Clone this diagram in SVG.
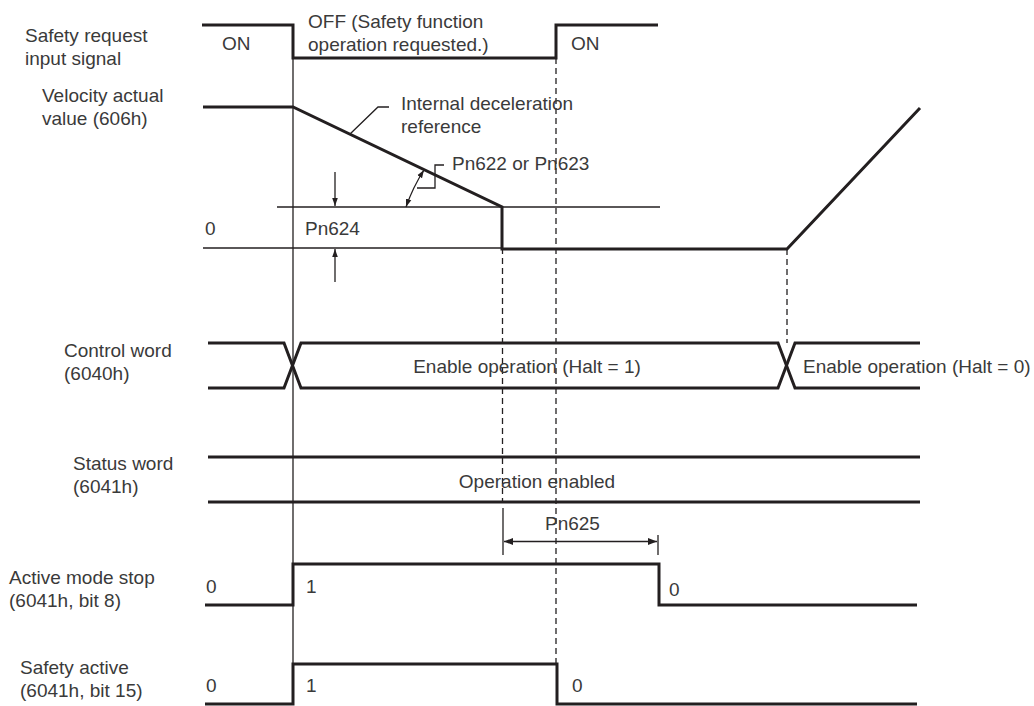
<svg xmlns="http://www.w3.org/2000/svg" width="1034" height="706" viewBox="0 0 1034 706">
<defs>
<style>
text{font-family:"Liberation Sans",Arial,sans-serif;font-size:19px;fill:#3a3a3a}
.sig{fill:none;stroke:#231f20;stroke-width:3;stroke-linejoin:miter}
.thin{fill:none;stroke:#231f20;stroke-width:1.3}
.dash{fill:none;stroke:#231f20;stroke-width:1.3;stroke-dasharray:6,4}
.mid{text-anchor:middle}
</style>
<marker id="ah" viewBox="0 0 10 10" refX="10" refY="5" markerWidth="9" markerHeight="9" markerUnits="userSpaceOnUse" orient="auto-start-reverse">
<path d="M0,1 L10,5 L0,9 Z" fill="#231f20"/>
</marker>
<marker id="ahs" viewBox="0 0 10 10" refX="10" refY="5" markerWidth="8" markerHeight="8" markerUnits="userSpaceOnUse" orient="auto-start-reverse">
<path d="M0,1.5 L10,5 L0,8.5 Z" fill="#231f20"/>
</marker>
</defs>
<rect width="1034" height="706" fill="#ffffff"/>

<g id="labels">
<text x="25" y="42">Safety request</text>
<text x="25" y="65">input signal</text>
<text x="42" y="102">Velocity actual</text>
<text x="42" y="125">value (606h)</text>
<text x="64" y="357">Control word</text>
<text x="64" y="380">(6040h)</text>
<text x="73" y="470">Status word</text>
<text x="73" y="493">(6041h)</text>
<text x="9" y="584">Active mode stop</text>
<text x="9" y="607">(6041h, bit 8)</text>
<text x="20" y="674">Safety active</text>
<text x="20" y="697">(6041h, bit 15)</text>
</g>

<g id="connectors">
<line class="thin" x1="293" y1="25" x2="293" y2="664"/>
<line class="dash" x1="556" y1="58" x2="556" y2="664"/>
<line class="dash" x1="502.5" y1="248" x2="502.5" y2="503"/>
<line class="dash" x1="787" y1="249" x2="787" y2="343"/>
</g>

<g id="safety-request">
<polyline class="sig" points="202,25 293,25 293,58 556,58 556,25 658,25"/>
<text x="222" y="50">ON</text>
<text x="308" y="28">OFF (Safety function</text>
<text x="308" y="51">operation requested.)</text>
<text x="571" y="50">ON</text>
</g>

<g id="velocity">
<line class="thin" x1="203" y1="248" x2="502" y2="248"/>
<line class="thin" x1="277" y1="207" x2="660" y2="207"/>
<polyline class="sig" points="203,107 293,107 502,207 502,249 787,249 920,108"/>
<text x="205" y="235">0</text>
<text x="305" y="235">Pn624</text>
<line class="thin" x1="335" y1="172" x2="335" y2="206" marker-end="url(#ahs)"/>
<line class="thin" x1="335" y1="282" x2="335" y2="249" marker-end="url(#ahs)"/>
<polyline class="thin" points="389,107 378,107 350,134"/>
<text x="401" y="110">Internal deceleration</text>
<text x="401" y="133">reference</text>
<polyline class="thin" points="444,165 435,165 435,188 417,188"/>
<path class="thin" d="M406,207 Q413,187 424,170" marker-start="url(#ahs)" marker-end="url(#ahs)"/>
<text x="452" y="170">Pn622 or Pn623</text>
</g>

<g id="control-word">
<polyline class="sig" points="208,343 284,343 301,388 778,388 795,343 920,343"/>
<polyline class="sig" points="208,388 284,388 301,343 778,343 795,388 920,388"/>
<text class="mid" x="527" y="373">Enable operation (Halt = 1)</text>
<text x="803" y="373">Enable operation (Halt = 0)</text>
</g>

<g id="status-word">
<line class="sig" x1="208" y1="457" x2="920" y2="457"/>
<line class="sig" x1="208" y1="502" x2="920" y2="502"/>
<text class="mid" x="537" y="488">Operation enabled</text>
</g>

<g id="pn625">
<line class="thin" x1="503" y1="508" x2="503" y2="555"/>
<line class="thin" x1="658" y1="535" x2="658" y2="555"/>
<line class="thin" x1="504" y1="541.5" x2="657" y2="541.5" marker-start="url(#ah)" marker-end="url(#ah)"/>
<text x="545" y="530">Pn625</text>
</g>

<g id="active-mode-stop">
<polyline class="sig" points="205,605 293,605 293,564 659,564 659,605 917,605"/>
<text x="206" y="593">0</text>
<text x="306" y="593">1</text>
<text x="669" y="596">0</text>
</g>

<g id="safety-active">
<polyline class="sig" points="205,704 293,704 293,664 557,664 557,704 917,704"/>
<text x="206" y="692">0</text>
<text x="306" y="692">1</text>
<text x="572" y="692">0</text>
</g>
</svg>
